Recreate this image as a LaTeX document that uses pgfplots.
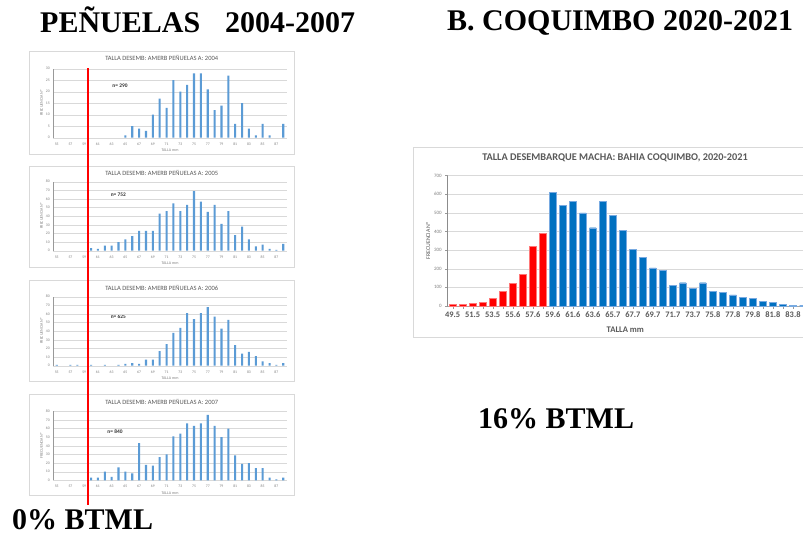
\documentclass[border=0pt]{standalone}
\usepackage{fontspec}
\setmainfont{Liberation Serif}
\newfontfamily\calib{Carlito}
\usepackage{pgfplots}
\usepackage{pgfplotstable}
\pgfplotsset{compat=1.18}

\definecolor{xlblue}{RGB}{91,155,213}
\definecolor{cqblue}{RGB}{0,112,192}
\definecolor{cqedge}{RGB}{120,170,225}
\definecolor{rdedge}{RGB}{255,120,120}
\definecolor{txtgray}{RGB}{89,89,89}
\definecolor{gridgray}{RGB}{217,217,217}

% talla (mm) vs frecuencia, Penuelas
\pgfplotstableread{
x y
65 1
66 5
67 4
68 3
69 10
70 17
71 13
72 25
73 20
74 23
75 28
76 28
77 21
78 12
79 14
80 27
81 6
82 15
83 4
84 1
85 6
86 1
88 6
}\tA
\pgfplotstableread{
x y
60 3
61 2
62 6
63 6
64 10
65 13
66 17
67 23
68 23
69 23
70 43
71 46
72 55
73 46
74 53
75 69
76 57
77 45
78 53
79 31
80 46
81 18
82 28
83 13
84 5
85 7
86 2
87 1
88 8
}\tB
\pgfplotstableread{
x y
55 1
57 1
58 1
60 1
62 1
64 1
65 2
66 3
67 2
68 7
69 7
70 17
71 25
72 38
73 44
74 61
75 54
76 61
77 68
78 57
79 43
80 53
81 24
82 14
83 16
84 11
85 5
86 3
87 1
88 3
}\tC
\pgfplotstableread{
x y
60 3
61 3
62 10
63 4
64 15
65 10
66 8
67 43
68 18
69 17
70 27
71 30
72 51
73 54
74 66
75 63
76 66
77 76
78 63
79 50
80 60
81 29
82 19
83 20
84 14
85 14
86 3
87 1
88 3
}\tD

% Coquimbo 2020-2021, bins 49.5 ... 84.8 at 0..35
\pgfplotstableread{
x y
0 10
1 8
2 15
3 20
4 40
5 80
6 120
7 170
8 320
9 390
}\cqRed
\pgfplotstableread{
x y
10 610
11 540
12 560
13 500
14 420
15 560
16 485
17 405
18 305
19 260
20 205
21 190
22 110
23 125
24 95
25 125
26 80
27 75
28 60
29 45
30 40
31 25
32 20
33 10
34 5
35 3
}\cqBlue

\pgfplotsset{
  panel/.style={
    scale only axis, width=233.4bp, height=69bp, anchor=south west,
    xmin=54.5, xmax=88.5, ymin=0,
    xtick={55,57,...,87},
    axis x line*=bottom, axis y line*=left,
    axis line style={-},
    x axis line style={draw=gridgray},
    y axis line style={draw=gray!80, line width=0.8pt},
    ymajorgrids, grid style={draw=gridgray, line width=0.3pt},
    major tick length=0pt,
    /pgf/number format/assume math mode=true,
    tick label style={font=\calib\fontsize{3.8bp}{4bp}\selectfont, text=gray},
    xticklabel style={yshift=-1.5bp},
    xlabel={TALLA mm}, ylabel={FRECUENCIA N°},
    label style={font=\calib\fontsize{4bp}{4bp}\selectfont, text=gray},
    xlabel style={at={(axis description cs:0.5,-0.18)}, anchor=center},
    ylabel style={at={(axis description cs:-0.05,0.5)}, anchor=center},
    ybar, bar width=0.3, bar shift=0pt,
  },
  pbar/.style={fill=xlblue, draw=none},
}

\begin{document}
\begin{tikzpicture}
\useasboundingbox (0,0) rectangle (803bp,-535bp);
\fill[white] (0,0) rectangle (803bp,-535bp);

% big captions
\node[anchor=base west, inner sep=0] at (40bp,-32bp)
  {\fontsize{30bp}{36bp}\selectfont\bfseries PEÑUELAS\hspace{25bp}2004-2007};
\node[anchor=base west, inner sep=0] at (447bp,-30bp)
  {\fontsize{30bp}{36bp}\selectfont\bfseries B. COQUIMBO 2020-2021};
\node[anchor=base west, inner sep=0] at (478bp,-428bp)
  {\fontsize{30bp}{36bp}\selectfont\bfseries 16\% BTML};
\node[anchor=base west, inner sep=0] at (12bp,-529bp)
  {\fontsize{30bp}{36bp}\selectfont\bfseries 0\% BTML};

% panel frames
\draw[gridgray, fill=white] (29.5bp,-50.7bp) rectangle (294bp,-154bp);
\draw[gridgray, fill=white] (29.5bp,-165.7bp) rectangle (294bp,-266.7bp);
\draw[gridgray, fill=white] (29.5bp,-280.5bp) rectangle (294bp,-381bp);
\draw[gridgray, fill=white] (29.5bp,-394.5bp) rectangle (294bp,-495bp);
\draw[gridgray, fill=white] (413bp,-147bp) rectangle (810bp,-337bp);

% panel titles and n
\foreach \yy/\yr in {58.3/2004, 172.7/2005, 288/2006, 402/2007}
  \node[text=txtgray, font=\calib\fontsize{6.5bp}{7bp}\selectfont] at (161.7bp,-\yy bp)
    {TALLA DESEMB: AMERB PEÑUELAS A: \yr};
\foreach \xx/\yy/\nn in {120/85.7/290, 118.3/195/752, 118.3/317/625, 115/432/840}
  \node[font=\calib\fontsize{5.4bp}{6bp}\selectfont\bfseries, text=black!80] at (\xx bp,-\yy bp) {n= \nn};

\begin{axis}[panel, at={(53.3bp,-137.7bp)}, ymax=30, ytick={0,5,...,30}]
\addplot[pbar] table {\tA};
\end{axis}
\begin{axis}[panel, at={(53.3bp,-250.7bp)}, ymax=80, ytick={0,10,...,80}]
\addplot[pbar] table {\tB};
\end{axis}
\begin{axis}[panel, at={(53.3bp,-365.7bp)}, ymax=80, ytick={0,10,...,80}]
\addplot[pbar] table {\tC};
\end{axis}
\begin{axis}[panel, at={(53.3bp,-480.3bp)}, ymax=80, ytick={0,10,...,80}]
\addplot[pbar] table {\tD};
\end{axis}

% Coquimbo chart
\node[text=txtgray, font=\calib\fontsize{10.3bp}{11bp}\selectfont\bfseries] at (615bp,-158bp)
  {TALLA DESEMBARQUE MACHA: BAHIA COQUIMBO, 2020-2021};
\begin{axis}[
  scale only axis, width=355.3bp, height=130.5bp,
  at={(447.7bp,-306bp)}, anchor=south west,
  xmin=-0.5, xmax=35, ymin=0, ymax=700,
  ytick={0,100,...,700},
  xtick={0,2,...,34},
  minor xtick={1,3,...,35},
  xticklabels={49.5,51.5,53.5,55.6,57.6,59.6,61.6,63.6,65.7,67.7,69.7,71.7,73.7,75.8,77.8,79.8,81.8,83.8},
  axis x line*=bottom, axis y line*=left,
  axis line style={-},
  x axis line style={draw=gray!70},
  y axis line style={draw=gray!90, line width=1pt},
  ymajorgrids, grid style={draw=gridgray, line width=0.4pt},
  tick align=outside, major tick length=2.5bp, minor tick length=2.5bp,
  tick style={draw=gray!80},
  /pgf/number format/assume math mode=true,
  yticklabel style={font=\calib\fontsize{5bp}{5bp}\selectfont, text=gray},
  xticklabel style={font=\calib\fontsize{8.4bp}{9bp}\selectfont\bfseries, text=txtgray},
  xlabel={TALLA mm}, ylabel={FRECUENCIA N°},
  xlabel style={font=\calib\fontsize{8.6bp}{9bp}\selectfont\bfseries, text=txtgray,
    at={(axis description cs:0.5,-0.18)}, anchor=center},
  ylabel style={font=\calib\fontsize{5.8bp}{6bp}\selectfont, text=txtgray,
    at={(axis description cs:-0.055,0.5)}, anchor=center},
  ybar, bar width=0.66, bar shift=0pt,
]
\addplot[fill=red, draw=rdedge, line width=0.4pt] table {\cqRed};
\addplot[fill=cqblue, draw=cqedge, line width=0.4pt] table {\cqBlue};
\end{axis}

% red cut-off line
\draw[red, line width=1.7pt] (88.3bp,-68bp) -- (88.3bp,-505bp);
\end{tikzpicture}
\end{document}
